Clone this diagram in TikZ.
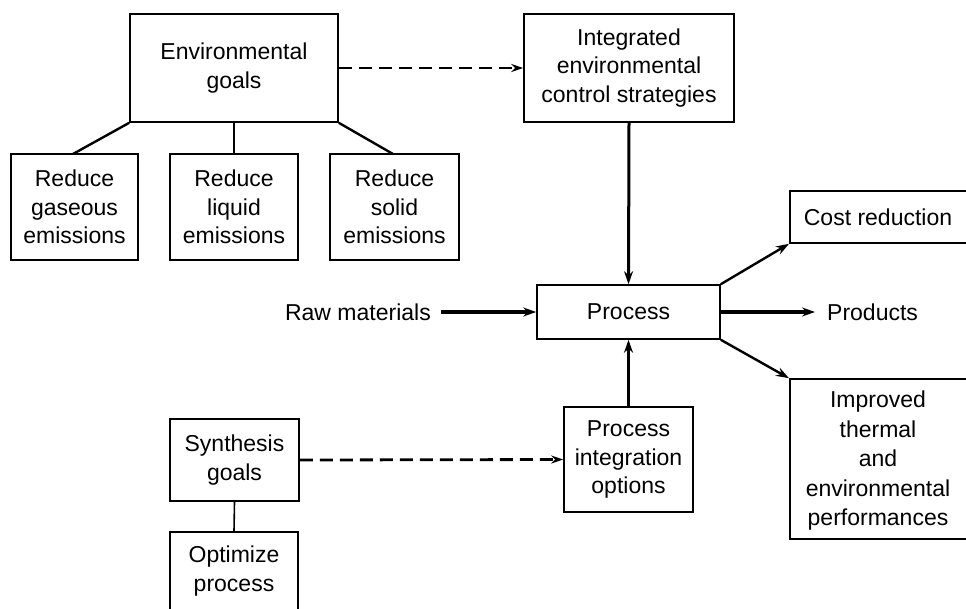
\documentclass[tikz,border=0pt]{standalone}
\usepackage{fontspec}
\setmainfont{Liberation Sans}
\usetikzlibrary{arrows.meta}
\begin{document}
\begin{tikzpicture}[x=1pt,y=-1pt,
  box/.style={draw,line width=1.6pt,inner sep=0pt,align=center,
    font=\fontsize{23}{28.5}\selectfont},
  lbl/.style={inner sep=0pt,font=\fontsize{23}{28.5}\selectfont},
  link/.style={line width=2.4pt},
  flow/.style={line width=3pt,-{Stealth[length=13pt,width=9pt]}},
  hint/.style={line width=2.8pt,dash pattern=on 13pt off 7pt,
    -{Stealth[length=12pt,width=8pt]}}]
\useasboundingbox (0,0) rectangle (966,608);

% goal hierarchy
\node[box,minimum width=208pt,minimum height=108pt] (env) at (234,68) {Environmental\\goals};
\node[box,minimum width=127pt,minimum height=106pt] (gas) at (74.5,207) {Reduce\\gaseous\\emissions};
\node[box,minimum width=128pt,minimum height=106pt] (liq) at (234,207) {Reduce\\liquid\\emissions};
\node[box,minimum width=129pt,minimum height=106pt] (sol) at (394.5,207) {Reduce\\solid\\emissions};

\node[box,minimum width=210pt,minimum height=108pt] (iecs) at (629,68) {Integrated\\environmental\\control strategies};

% central process
\node[box,minimum width=183pt,minimum height=54pt] (proc) at (628.5,312) {Process};
\node[lbl,anchor=east] (raw) at (431,312) {Raw materials};
\node[lbl,anchor=west] (prod) at (827,312) {Products};

% outcomes (boxes run off the right edge)
\node[box,minimum width=181pt,minimum height=52pt,anchor=west] (cost) at (789,217) {};
\node[lbl] (costt) at (878,217) {Cost reduction};
\node[box,minimum width=181pt,minimum height=160pt,anchor=west] (impr) at (789,459) {};
\node[lbl,align=center,font=\fontsize{23}{29.5}\selectfont] (imprt) at (878,461) {Improved\\thermal\\and\\environmental\\performances};

% synthesis side
\node[box,minimum width=129pt,minimum height=105pt] (pio) at (628.5,459.5) {Process\\integration\\options};
\node[box,minimum width=129pt,minimum height=82pt] (syn) at (234.5,460) {Synthesis\\goals};
\node[box,minimum width=128pt,minimum height=78pt] (opt) at (234,571) {Optimize\\process};

% connectors
\draw[link] (env.south west) -- (73,154);
\draw[link] (env.south) -- (liq.north);
\draw[link] (env.south east) -- (393,154);
\draw[hint] (env.east) -- (iecs.west);
\draw[flow] (iecs.south) -- (proc.north);
\draw[flow,line width=4pt] ([xshift=-10pt]raw.east) ++(20pt,0) -- (proc.west);
\draw[flow,line width=4pt] (proc.east) -- ([xshift=-12pt]prod.west);
\draw[flow,line width=2.4pt] (proc.north east) -- (cost.south west);
\draw[flow,line width=2.4pt] (proc.south east) -- (impr.north west);
\draw[flow] (pio.north) -- (proc.south);
\draw[hint] (syn.east) -- (pio.west);
\draw[line width=1.6pt] (syn.south) -- (opt.north);
\end{tikzpicture}
\end{document}
